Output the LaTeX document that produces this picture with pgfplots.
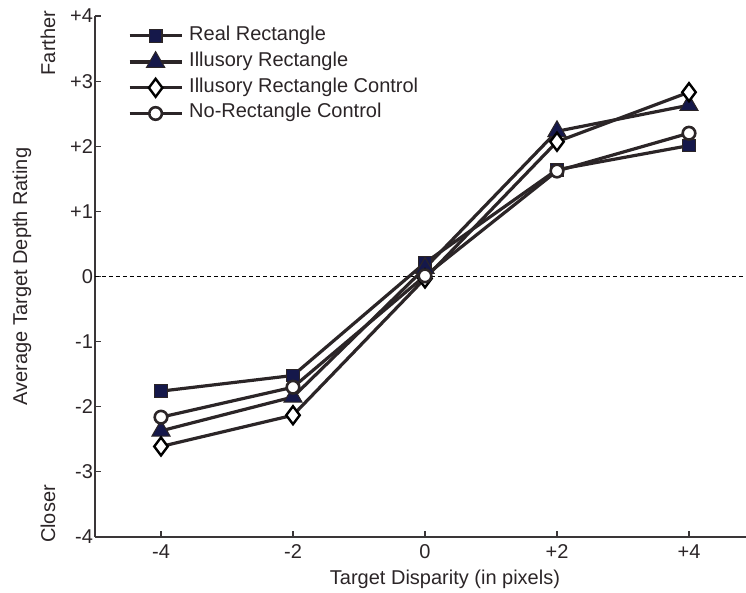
\documentclass[border=0pt]{standalone}
\usepackage{pgfplots}
\pgfplotsset{compat=1.18}
\usepackage{fontspec}
\setmainfont{Liberation Sans}
\definecolor{ln}{HTML}{2B2527}
\definecolor{navy}{HTML}{15184A}
\definecolor{ax}{HTML}{3A3638}
\begin{document}
\begin{tikzpicture}
\begin{axis}[
  scale only axis,
  width=651pt, height=521pt,
  xmin=-5, xmax=4.864, ymin=-4, ymax=4,
  axis lines*=left,
  axis line style={ax, line width=1.3pt},
  tick align=inside,
  major tick length=6pt,
  tick style={ax, line width=1.1pt},
  font=\fontsize{20}{24}\selectfont,
  /pgf/number format/assume math mode=true,
  xtick={-4,-2,0,2,4},
  xticklabels={-4,-2,0,+2,+4},
  ytick={-4,-3,-2,-1,0,1,2,3,4},
  yticklabels={-4,-3,-2,-1,0,+1,+2,+3,+4},
  xticklabel style={yshift=-4pt, text=ln},
  yticklabel style={xshift=1.5pt, text=ln},
  xlabel={Target Disparity (in pixels)},
  xlabel style={at={(axis description cs:0.5376,0)}, anchor=base, yshift=-47pt, text=ln},
  ylabel={Average Target Depth Rating},
  ylabel style={at={(axis description cs:-0.1121,0.5)}, anchor=center, rotate=0, text=ln},
  clip=false,
  legend cell align=left,
  legend style={draw=none, fill=none, at={(axis description cs:0.0507,0.981)}, anchor=north west,
    inner sep=0pt, outer sep=0pt, row sep=5.7pt, column sep=6pt,
    nodes={inner sep=0pt, text height=14.5pt, text depth=5.5pt, text=ln}},
  legend image code/.code={\draw[mark repeat=2,mark phase=2] plot coordinates {(0pt,0pt) (26pt,0pt) (52pt,0pt)};},
]
\addplot[black, line width=0.9pt, dash pattern=on 4pt off 3pt, forget plot] coordinates {(-5,0) (4.864,0)};
\addplot[ln, line width=3.2pt, mark=square*, mark size=6.3pt, mark options={fill=navy, draw=ln, line width=1.2pt}]
  coordinates {(-4,-1.76) (-2,-1.52) (0,0.21) (2,1.64) (4,2.01)};
\addlegendentry{Real Rectangle}
\addplot[ln, line width=3.2pt, mark=triangle*, mark size=10.5pt, mark options={fill=navy, draw=ln, line width=1pt}]
  coordinates {(-4,-2.37) (-2,-1.85) (0,0.13) (2,2.23) (4,2.63)};
\addlegendentry{Illusory Rectangle}
\addplot[ln, line width=3.2pt, mark=diamond*, mark size=9pt, mark options={fill=white, draw=black, line width=2.4pt}]
  coordinates {(-4,-2.61) (-2,-2.13) (0,-0.03) (2,2.07) (4,2.83)};
\addlegendentry{Illusory Rectangle Control}
\addplot[ln, line width=3.2pt, mark=*, mark size=6.3pt, mark options={fill=white, draw=ln, line width=2.6pt}]
  coordinates {(-4,-2.16) (-2,-1.70) (0,0.01) (2,1.62) (4,2.20)};
\addlegendentry{No-Rectangle Control}
\node[rotate=90, text=ln, font=\fontsize{20}{24}\selectfont] at (axis description cs:-0.0722,0.948) {Farther};
\node[rotate=90, text=ln, font=\fontsize{20}{24}\selectfont] at (axis description cs:-0.0722,0.044) {Closer};
\end{axis}
\pgfresetboundingbox
\path (current axis.south west) ++(-95pt,-55pt) rectangle ++(746pt,592pt);
\end{tikzpicture}
\end{document}
